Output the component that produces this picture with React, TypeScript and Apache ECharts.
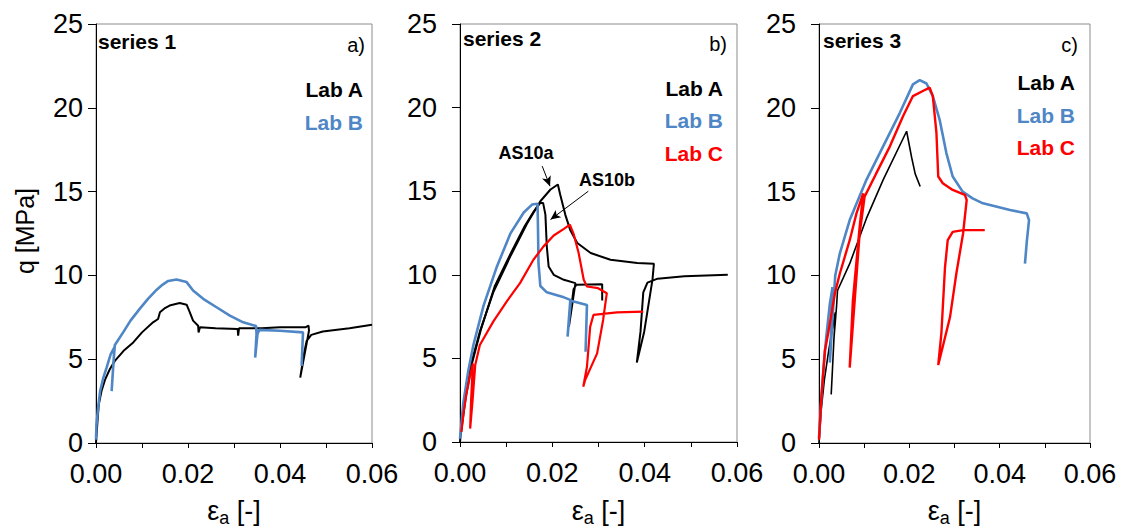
import React, { useEffect, useRef } from "react";
import * as echarts from "echarts";

// ---------------- data ----------------
const xTickLabels = ["0.00", "0.02", "0.04", "0.06"];
const yTickLabels = ["0", "5", "10", "15", "20", "25"];
const panelTitles = ["series 1", "series 2", "series 3"];
const panelLetters = ["a)", "b)", "c)"];
const labNames = ["Lab A", "Lab B", "Lab C"];

// series 1
const s1LabA: number[][] = [
  [0.0, 0.0], [0.0003, 1.2], [0.0006, 2.3], [0.0012, 3.1], [0.002, 3.8], [0.003, 4.4],
  [0.0041, 4.9], [0.006, 5.5], [0.0081, 6.0], [0.01, 6.6], [0.0124, 7.2], [0.0135, 7.4],
  [0.0139, 7.8], [0.015, 8.05], [0.016, 8.2], [0.0182, 8.35], [0.0197, 8.25], [0.0204, 7.8],
  [0.0211, 7.3], [0.0222, 7.0], [0.0223, 6.6], [0.0226, 6.9], [0.026, 6.85], [0.0308, 6.8],
  [0.0309, 6.4], [0.0311, 6.85], [0.036, 6.85], [0.04, 6.9], [0.0455, 6.9], [0.0462, 7.0],
  [0.0463, 6.7], [0.0444, 3.9], [0.0452, 5.3], [0.0458, 6.1], [0.0468, 6.45], [0.0493, 6.65],
  [0.0551, 6.85], [0.06, 7.05],
];
const s1LabB: number[][] = [
  [0.0, 0.2], [0.0001, 1.1], [0.0005, 2.2], [0.0009, 3.1], [0.0016, 3.9], [0.0023, 4.5],
  [0.0032, 5.3], [0.004, 5.7], [0.0034, 3.1], [0.0038, 4.8], [0.0041, 5.85], [0.0059, 6.6],
  [0.0075, 7.3], [0.0095, 8.0], [0.0113, 8.6], [0.0132, 9.15], [0.0145, 9.45], [0.0157, 9.67],
  [0.0175, 9.76], [0.0197, 9.6], [0.0211, 9.1], [0.0233, 8.6], [0.0262, 8.1], [0.0291, 7.6],
  [0.032, 7.2], [0.0348, 6.98], [0.0349, 6.5], [0.0346, 5.1], [0.0351, 6.5], [0.0355, 6.75],
  [0.04, 6.7], [0.045, 6.6], [0.0447, 4.6],
];

// series 2
const s2LabA_AS10a: number[][] = [
  [0.0, 0.0], [0.0005, 1.5], [0.0011, 2.7], [0.0022, 4.45], [0.0043, 6.6], [0.0072, 8.95],
  [0.0109, 11.1], [0.0145, 13.05], [0.0174, 14.4], [0.0196, 15.1], [0.0212, 15.4], [0.0217, 14.8],
  [0.0228, 13.6], [0.0239, 12.66], [0.0254, 11.9], [0.0283, 11.3], [0.0326, 10.9], [0.0384, 10.7],
  [0.042, 10.66], [0.0417, 9.73], [0.0399, 6.6], [0.0383, 4.75], [0.0391, 6.6], [0.0397, 8.95],
  [0.0406, 9.53], [0.0428, 9.77], [0.0486, 9.92], [0.058, 10.0],
];
const s2LabA_AS10b: number[][] = [
  [0.0002, 0.5], [0.0012, 2.6], [0.0025, 4.6], [0.0045, 6.7], [0.0075, 9.3], [0.0112, 11.4],
  [0.014, 12.9], [0.016, 13.8], [0.0174, 14.3], [0.018, 14.3], [0.0185, 13.6], [0.0188, 11.7],
  [0.0192, 10.5], [0.0203, 10.0], [0.0225, 9.7], [0.025, 9.5], [0.0236, 6.9], [0.0246, 9.14],
  [0.0252, 9.4], [0.0308, 9.43], [0.0308, 8.46],
];
const s2LabB: number[][] = [
  [0.0, 0.2], [0.0007, 2.3], [0.0018, 4.26], [0.0029, 5.8], [0.0051, 8.16], [0.008, 10.5],
  [0.0109, 12.46], [0.0138, 13.73], [0.0156, 14.2], [0.0168, 14.25], [0.0169, 12.66], [0.017, 10.7],
  [0.0174, 9.33], [0.0188, 8.95], [0.0225, 8.65], [0.0239, 8.5], [0.0233, 6.3], [0.024, 8.45],
  [0.0275, 8.2], [0.0272, 5.4],
];
const s2LabC: number[][] = [
  [0.0003, 0.6], [0.0008, 1.8], [0.0014, 2.9], [0.0022, 4.0], [0.0028, 4.7], [0.0024, 2.5],
  [0.0022, 0.8], [0.0027, 2.4], [0.0033, 4.6], [0.0043, 5.8], [0.0072, 7.2], [0.0101, 8.4],
  [0.013, 9.5], [0.0159, 10.9], [0.0181, 11.7], [0.0203, 12.35], [0.0225, 12.75], [0.0238, 13.0],
  [0.0246, 12.45], [0.0257, 11.3], [0.0268, 9.7], [0.0275, 9.3], [0.0299, 9.2], [0.0318, 8.9],
  [0.031, 7.3], [0.0297, 5.3], [0.0271, 3.7], [0.0267, 3.3], [0.0275, 4.5], [0.0282, 6.9],
  [0.0289, 7.6], [0.034, 7.75], [0.0397, 7.8],
];

// series 3
const s3LabA: number[][] = [
  [0.0, 0.0], [0.0005, 2.0], [0.0012, 3.8], [0.0022, 5.6], [0.0032, 7.2], [0.0036, 7.8],
  [0.003, 4.5], [0.0027, 2.9], [0.003, 4.5], [0.0033, 6.2], [0.0039, 8.2], [0.0041, 9.1],
  [0.0068, 10.7], [0.0105, 13.4], [0.0142, 15.7], [0.0194, 18.6], [0.0205, 17.05],
  [0.0213, 16.06], [0.0224, 15.3],
];
const s3LabB: number[][] = [
  [0.0, 0.3], [0.0005, 2.6], [0.001, 4.5], [0.0016, 6.3], [0.0024, 8.3], [0.003, 9.3],
  [0.0026, 6.0], [0.0024, 4.8], [0.003, 7.5], [0.0036, 10.0], [0.0046, 11.3], [0.0068, 13.3],
  [0.0105, 15.7], [0.0142, 17.7], [0.0179, 19.7], [0.0208, 21.4], [0.0223, 21.65], [0.0238, 21.45],
  [0.0252, 20.7], [0.0267, 19.3], [0.0282, 17.3], [0.0296, 15.9], [0.0318, 15.0], [0.034, 14.6],
  [0.0363, 14.3], [0.0423, 13.9], [0.046, 13.7], [0.0465, 13.3], [0.046, 12.0], [0.0456, 10.7],
];
const s3LabC: number[][] = [
  [0.0, 0.2], [0.0005, 2.6], [0.0013, 5.5], [0.002, 6.5], [0.0035, 8.9], [0.0046, 10.1],
  [0.0068, 12.1], [0.0083, 13.7], [0.0098, 14.9], [0.009, 12.9], [0.0075, 8.5], [0.0068, 4.5],
  [0.0079, 8.5], [0.009, 12.5], [0.0101, 14.7], [0.0127, 16.1], [0.0157, 17.7], [0.0186, 19.5],
  [0.0208, 20.7], [0.023, 21.0], [0.0245, 21.2], [0.0252, 20.7], [0.026, 18.5], [0.0264, 15.9],
  [0.0274, 15.5], [0.0296, 15.1], [0.0323, 14.8], [0.0327, 14.5], [0.0319, 12.5], [0.0304, 10.1],
  [0.029, 7.5], [0.0264, 4.65], [0.0271, 6.55], [0.0279, 10.5], [0.0285, 12.1], [0.0296, 12.6],
  [0.0319, 12.7], [0.0367, 12.7],
];

// annotation arrows (data coords, panel b)
const as10aArrow: number[][] = [[0.0178, 16.5], [0.0195, 15.3]];
const as10bArrow: number[][] = [[0.0278, 15.0], [0.0196, 13.3]];

// ---------------- styling ----------------
const FONT = '"Liberation Sans", Arial, Helvetica, sans-serif';
const BLACK = "#000000";
const BLUE = "#4F86C6";
const RED = "#FF0000";
const labColors = [BLACK, BLUE, RED];

const grids = [
  { left: 96, top: 24, width: 276, height: 419 },
  { left: 460, top: 24, width: 277, height: 418 },
  { left: 819, top: 24, width: 271, height: 419 },
];
const yLabelMargins = [13, 23, 23];

export default function App() {
  const ref = useRef<HTMLDivElement>(null);

  useEffect(() => {
    document.body.style.margin = "0";
    document.body.style.overflow = "hidden";
    if (!ref.current) return;
    const chart = echarts.init(ref.current, undefined, { renderer: "svg" });

    const xLabelFormatter = (v: number) => {
      const idx = xTickLabels.findIndex((t) => Math.abs(parseFloat(t) - v) < 1e-6);
      return idx >= 0 ? xTickLabels[idx] : "";
    };
    const yLabelFormatter = (v: number) => {
      const idx = yTickLabels.findIndex((t) => Math.abs(parseFloat(t) - v) < 1e-6);
      return idx >= 0 ? yTickLabels[idx] : "";
    };

    const xAxes = grids.map((_, i) => ({
      type: "value",
      gridIndex: i,
      min: 0,
      max: 0.06,
      interval: 0.01,
      axisLine: { show: true, onZero: false, lineStyle: { color: "#000", width: 1 } },
      axisTick: { show: true, inside: false, length: 5, lineStyle: { color: "#000" } },
      axisLabel: { fontSize: 27, color: "#000", margin: 17, fontFamily: FONT, formatter: xLabelFormatter },
      splitLine: { show: false },
    }));
    const yAxes = grids.map((_, i) => ({
      type: "value",
      gridIndex: i,
      min: 0,
      max: 25,
      interval: 5,
      axisLine: { show: true, onZero: false, lineStyle: { color: "#000", width: 1 } },
      axisTick: { show: true, inside: false, length: 8, lineStyle: { color: "#000" } },
      axisLabel: { fontSize: 27, color: "#000", margin: yLabelMargins[i], fontFamily: FONT, formatter: yLabelFormatter },
      splitLine: { show: false },
    }));

    const mk = (data: number[][], idx: number, color: string, width: number, name: string, extra: any = {}) => ({
      type: "line",
      name,
      xAxisIndex: idx,
      yAxisIndex: idx,
      data,
      showSymbol: false,
      symbol: "none",
      smooth: false,
      lineStyle: { color, width },
      itemStyle: { color },
      emphasis: { disabled: true },
      ...extra,
    });

    const arrowLine = {
      silent: true,
      symbol: ["none", "arrow"],
      symbolSize: [7, 10],
      label: { show: false },
      lineStyle: { color: "#000", width: 1, type: "solid" },
      emphasis: { disabled: true },
      data: [
        [{ coord: as10aArrow[0] }, { coord: as10aArrow[1] }],
        [{ coord: as10bArrow[0] }, { coord: as10bArrow[1] }],
      ],
    };

    const series = [
      mk(s1LabA, 0, BLACK, 2, "Lab A"),
      mk(s1LabB, 0, BLUE, 2.6, "Lab B"),
      mk(s2LabA_AS10a, 1, BLACK, 2, "AS10a", { markLine: arrowLine }),
      mk(s2LabA_AS10b, 1, BLACK, 2, "AS10b"),
      mk(s2LabB, 1, BLUE, 2.6, "Lab B"),
      mk(s2LabC, 1, RED, 2.2, "Lab C"),
      mk(s3LabA, 2, BLACK, 1.6, "Lab A"),
      mk(s3LabB, 2, BLUE, 2.6, "Lab B"),
      mk(s3LabC, 2, RED, 2.4, "Lab C"),
    ];

    const txt = (text: string, x: number, y: number, font: string, fill: string, align: string) => ({
      type: "text",
      x,
      y,
      silent: true,
      style: {
        text,
        font,
        fill,
        align,
        verticalAlign: "middle",
        textAlign: align,
        textVerticalAlign: "middle",
      },
    });

    const titlePos = [
      { x: 98, y: 41 },
      { x: 463, y: 38 },
      { x: 823, y: 40 },
    ];
    const letterPos = [
      { x: 365, y: 45 },
      { x: 727, y: 44 },
      { x: 1078, y: 45 },
    ];
    const labPos = [
      { x: 363, ys: [89, 122] },
      { x: 723, ys: [88, 120, 153] },
      { x: 1075, ys: [82, 115, 147] },
    ];

    const graphics: any[] = [];
    for (let i = 0; i < 3; i++) {
      graphics.push(txt(panelTitles[i], titlePos[i].x, titlePos[i].y, `bold 21px ${FONT}`, "#000", "left"));
      graphics.push(txt(panelLetters[i], letterPos[i].x, letterPos[i].y, `20px ${FONT}`, "#000", "right"));
      labPos[i].ys.forEach((yy, k) => {
        graphics.push(txt(labNames[k], labPos[i].x, yy, `bold 21px ${FONT}`, labColors[k], "right"));
      });
      const cx = grids[i].left + grids[i].width / 2;
      graphics.push({
        type: "text",
        x: cx,
        y: 511,
        silent: true,
        style: {
          text: "{e|ε}{s|a}{e| [-]}",
          align: "center",
          verticalAlign: "middle",
          textAlign: "center",
          textVerticalAlign: "middle",
          rich: {
            e: { fontSize: 27, fontFamily: FONT, fill: "#000", lineHeight: 32, verticalAlign: "middle" },
            s: { fontSize: 18, fontFamily: FONT, fill: "#000", lineHeight: 32, verticalAlign: "bottom" },
          },
        },
      });
    }
    graphics.push(txt("AS10a", 526, 153, `bold 18px ${FONT}`, "#000", "center"));
    graphics.push(txt("AS10b", 607, 180, `bold 18px ${FONT}`, "#000", "center"));
    graphics.push({
      type: "text",
      x: 25,
      y: 231,
      rotation: Math.PI / 2,
      silent: true,
      style: {
        text: "q [MPa]",
        font: `25px ${FONT}`,
        fill: "#000",
        align: "center",
        verticalAlign: "middle",
        textAlign: "center",
        textVerticalAlign: "middle",
      },
    });

    chart.setOption({
      animation: false,
      backgroundColor: "#ffffff",
      textStyle: { fontFamily: FONT },
      grid: grids.map((g) => ({ ...g, show: true, borderColor: "#8c8c8c", borderWidth: 1, backgroundColor: "transparent" })),
      xAxis: xAxes,
      yAxis: yAxes,
      series,
      graphic: graphics,
    });

    return () => {
      chart.dispose();
    };
  }, []);

  return <div ref={ref} style={{ width: 1122, height: 531 }} />;
}
